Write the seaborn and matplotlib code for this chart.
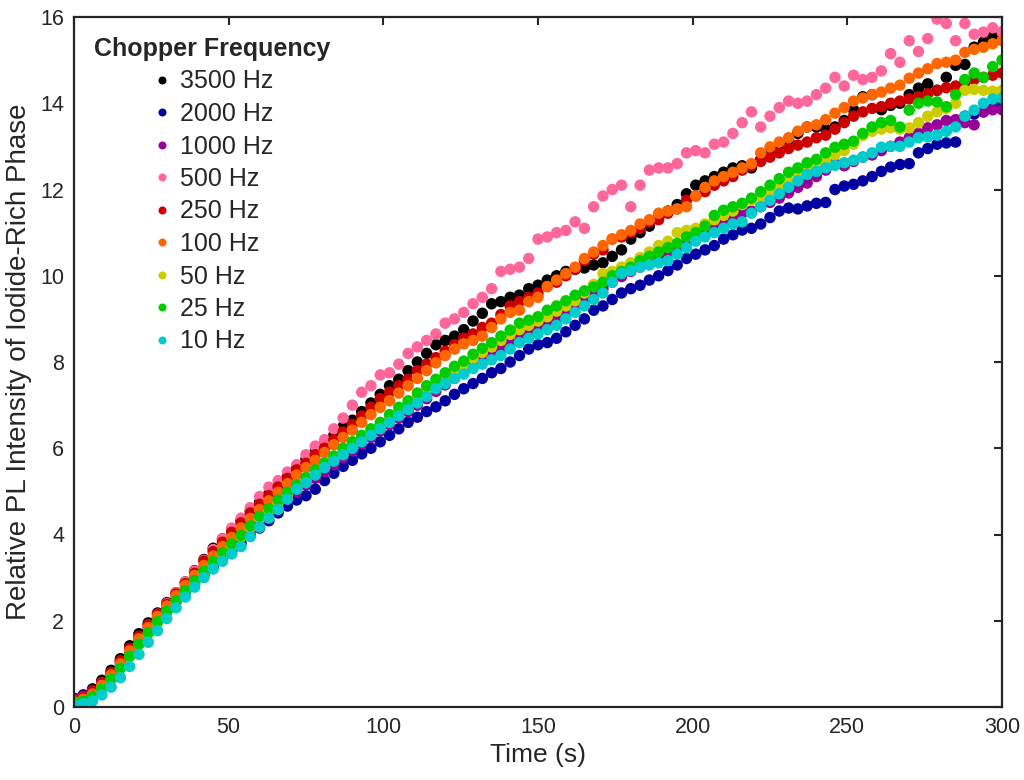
import numpy as np
import pandas as pd
import matplotlib
matplotlib.use("Agg")
import matplotlib.pyplot as plt
import seaborn as sns

# ---------------- data ----------------
TIME_S = np.arange(0, 301, 3)

FREQ_LABELS = ["3500 Hz", "2000 Hz", "1000 Hz", "500 Hz", "250 Hz",
               "100 Hz", "50 Hz", "25 Hz", "10 Hz"]
COLORS = ["#000000", "#0000A0", "#990099", "#FF6699", "#CC0000",
          "#FF6600", "#CCCC00", "#00CC00", "#00CCCC"]

HZ_3500 = [0.20, 0.28, 0.42, 0.62, 0.85, 1.12, 1.42, 1.70, 1.95, 2.18,
           2.42, 2.65, 2.90, 3.16, 3.42, 3.68, 3.90, 4.12, 4.33, 4.55,
           4.75, 4.95, 5.15, 5.35, 5.55, 5.75, 5.92, 6.10, 6.30, 6.50,
           6.65, 6.85, 7.05, 7.25, 7.45, 7.60, 7.80, 8.00, 8.20, 8.40,
           8.50, 8.60, 8.75, 8.95, 9.13, 9.35, 9.40, 9.50, 9.55, 9.70,
           9.78, 9.90, 10.00, 10.10, 10.15, 10.18, 10.25, 10.30, 10.45, 10.60,
           10.85, 11.00, 11.15, 11.35, 11.50, 11.65, 11.90, 12.10, 12.20, 12.30,
           12.40, 12.50, 12.55, 12.50, 12.70, 12.90, 13.00, 13.15, 13.30, 13.45,
           13.45, 13.40, 13.45, 13.60, 13.85, 14.15, 14.20, 13.85, 13.95, 14.00,
           14.20, 14.35, 14.45, 14.30, 14.60, 14.88, 14.90, 15.30, 15.42, 15.55,
           15.65]

HZ_2000 = [0.20, 0.26, 0.38, 0.55, 0.76, 1.00, 1.27, 1.52, 1.77, 2.00,
           2.22, 2.44, 2.65, 2.86, 3.06, 3.25, 3.44, 3.62, 3.80, 3.98,
           4.15, 4.32, 4.50, 4.66, 4.80, 4.90, 5.05, 5.25, 5.42, 5.58,
           5.72, 5.87, 6.00, 6.15, 6.30, 6.45, 6.60, 6.72, 6.85, 6.96,
           7.10, 7.25, 7.38, 7.50, 7.62, 7.75, 7.85, 8.00, 8.15, 8.30,
           8.40, 8.45, 8.55, 8.70, 8.85, 9.00, 9.20, 9.30, 9.45, 9.60,
           9.70, 9.78, 9.90, 10.00, 10.12, 10.25, 10.40, 10.50, 10.60, 10.70,
           10.85, 10.95, 11.06, 11.10, 11.20, 11.35, 11.50, 11.57, 11.55, 11.62,
           11.68, 11.70, 12.00, 12.08, 12.12, 12.20, 12.30, 12.42, 12.52, 12.58,
           12.60, 12.85, 12.95, 13.05, 13.08, 13.10, 13.70, 13.75, 13.80, 13.88,
           13.90]

HZ_1000 = [0.18, 0.25, 0.38, 0.57, 0.80, 1.06, 1.34, 1.60, 1.85, 2.08,
           2.30, 2.52, 2.74, 2.95, 3.16, 3.36, 3.55, 3.73, 3.92, 4.10,
           4.28, 4.46, 4.64, 4.82, 4.98, 5.15, 5.30, 5.46, 5.62, 5.78,
           5.94, 6.10, 6.25, 6.40, 6.55, 6.70, 6.85, 7.00, 7.15, 7.32,
           7.47, 7.62, 7.76, 7.90, 8.02, 8.15, 8.30, 8.45, 8.60, 8.72,
           8.80, 8.90, 9.02, 9.15, 9.30, 9.42, 9.55, 9.70, 9.85, 9.98,
           10.10, 10.20, 10.32, 10.45, 10.55, 10.65, 10.75, 10.85, 10.95, 11.08,
           11.20, 11.35, 11.45, 11.50, 11.60, 11.70, 11.80, 11.92, 12.05, 12.15,
           12.30, 12.45, 12.60, 12.55, 12.65, 12.75, 12.80, 12.90, 13.00, 13.10,
           13.20, 13.30, 13.43, 13.50, 13.60, 13.62, 13.55, 13.50, 13.80, 13.85,
           13.85]

HZ_500 = [0.15, 0.22, 0.35, 0.55, 0.78, 1.05, 1.35, 1.62, 1.90, 2.15,
          2.40, 2.65, 2.90, 3.15, 3.40, 3.65, 3.90, 4.15, 4.38, 4.62,
          4.88, 5.10, 5.25, 5.45, 5.62, 5.85, 6.05, 6.20, 6.45, 6.70,
          7.00, 7.30, 7.45, 7.70, 7.75, 7.95, 8.20, 8.35, 8.50, 8.65,
          8.90, 9.00, 9.15, 9.35, 9.50, 9.70, 10.10, 10.15, 10.20, 10.40,
          10.85, 10.90, 11.00, 11.05, 11.25, 11.10, 11.60, 11.85, 12.00, 12.10,
          11.60, 12.10, 12.45, 12.50, 12.50, 12.60, 12.85, 12.90, 12.85, 13.05,
          13.10, 13.30, 13.55, 13.80, 13.45, 13.70, 13.90, 14.05, 14.00, 14.05,
          14.20, 14.35, 14.60, 14.40, 14.65, 14.55, 14.60, 14.75, 15.15, 14.95,
          15.45, 15.20, 15.50, 15.95, 15.85, 15.45, 15.85, 15.60, 15.65, 15.75,
          15.65]

HZ_250 = [0.15, 0.22, 0.36, 0.56, 0.80, 1.07, 1.36, 1.64, 1.90, 2.15,
          2.38, 2.62, 2.86, 3.10, 3.38, 3.60, 3.82, 4.05, 4.27, 4.50,
          4.70, 4.90, 5.10, 5.30, 5.50, 5.65, 5.85, 6.00, 6.20, 6.38,
          6.55, 6.75, 6.95, 7.15, 7.30, 7.45, 7.60, 7.80, 7.95, 8.10,
          8.25, 8.40, 8.55, 8.65, 8.80, 8.90, 9.10, 9.30, 9.40, 9.50,
          9.60, 9.75, 9.85, 10.00, 10.15, 10.35, 10.50, 10.60, 10.85, 10.90,
          11.00, 11.10, 11.25, 11.30, 11.45, 11.55, 11.75, 11.85, 11.95, 12.10,
          12.20, 12.30, 12.45, 12.55, 12.65, 12.75, 12.85, 12.95, 13.03, 13.10,
          13.20, 13.26, 13.40, 13.55, 13.70, 13.80, 13.88, 13.92, 14.00, 14.05,
          14.10, 14.15, 14.22, 14.30, 14.36, 14.40, 14.48, 14.55, 14.60, 14.65,
          14.70]

HZ_100 = [0.12, 0.18, 0.30, 0.50, 0.74, 1.00, 1.30, 1.58, 1.84, 2.10,
          2.34, 2.58, 2.82, 3.05, 3.28, 3.50, 3.72, 3.93, 4.15, 4.37,
          4.58, 4.78, 4.98, 5.18, 5.38, 5.55, 5.72, 5.90, 6.08, 6.25,
          6.42, 6.60, 6.78, 6.95, 7.10, 7.28, 7.45, 7.62, 7.80, 7.98,
          8.15, 8.30, 8.42, 8.50, 8.60, 8.80, 9.00, 9.15, 9.20, 9.40,
          9.50, 9.75, 9.90, 10.05, 10.20, 10.40, 10.55, 10.70, 10.85, 10.95,
          11.05, 11.20, 11.30, 11.45, 11.50, 11.55, 11.60, 11.85, 12.05, 12.20,
          12.30, 12.40, 12.50, 12.60, 12.85, 12.99, 13.10, 13.20, 13.35, 13.45,
          13.50, 13.62, 13.77, 13.90, 14.05, 14.12, 14.20, 14.26, 14.35, 14.42,
          14.58, 14.70, 14.80, 14.92, 14.95, 15.00, 15.18, 15.25, 15.30, 15.38,
          15.45]

HZ_50 = [0.10, 0.14, 0.24, 0.42, 0.64, 0.90, 1.17, 1.45, 1.70, 1.96,
         2.20, 2.44, 2.68, 2.90, 3.12, 3.33, 3.55, 3.75, 3.95, 4.16,
         4.38, 4.56, 4.75, 4.93, 5.10, 5.27, 5.44, 5.60, 5.76, 5.93,
         6.08, 6.23, 6.38, 6.53, 6.70, 6.87, 7.02, 7.20, 7.36, 7.52,
         7.66, 7.80, 7.92, 8.08, 8.22, 8.35, 8.50, 8.64, 8.75, 8.85,
         8.95, 9.05, 9.18, 9.30, 9.42, 9.60, 9.80, 10.05, 10.10, 10.20,
         10.30, 10.42, 10.55, 10.70, 10.80, 11.00, 11.05, 11.10, 11.20, 11.30,
         11.40, 11.50, 11.65, 11.75, 11.85, 11.95, 12.05, 12.18, 12.35, 12.45,
         12.55, 12.65, 12.80, 12.90, 13.05, 13.25, 13.35, 13.40, 13.43, 13.40,
         13.43, 13.55, 13.70, 13.80, 13.88, 14.00, 14.30, 14.32, 14.30, 14.28,
         14.30]

HZ_25 = [0.10, 0.14, 0.24, 0.42, 0.65, 0.90, 1.18, 1.46, 1.72, 1.98,
         2.22, 2.46, 2.70, 2.93, 3.15, 3.37, 3.58, 3.78, 3.98, 4.20,
         4.42, 4.60, 4.80, 4.98, 5.15, 5.32, 5.50, 5.66, 5.82, 6.00,
         6.15, 6.30, 6.45, 6.60, 6.78, 6.95, 7.10, 7.28, 7.45, 7.60,
         7.75, 7.90, 8.02, 8.18, 8.32, 8.45, 8.60, 8.74, 8.90, 8.97,
         9.05, 9.20, 9.30, 9.42, 9.55, 9.65, 9.74, 9.85, 10.00, 10.10,
         10.20, 10.35, 10.45, 10.55, 10.65, 10.75, 10.90, 11.00, 11.15, 11.40,
         11.52, 11.60, 11.68, 11.80, 11.95, 12.10, 12.25, 12.40, 12.50, 12.62,
         12.70, 12.85, 12.98, 13.05, 13.12, 13.30, 13.45, 13.55, 13.60, 13.45,
         13.84, 14.00, 14.05, 14.03, 13.92, 14.20, 14.55, 14.70, 14.60, 14.85,
         15.00]

HZ_10 = [0.05, 0.08, 0.14, 0.28, 0.46, 0.68, 0.94, 1.22, 1.50, 1.77,
         2.05, 2.30, 2.55, 2.78, 3.00, 3.20, 3.38, 3.55, 3.72, 3.95,
         4.17, 4.38, 4.58, 4.82, 5.05, 5.20, 5.38, 5.55, 5.70, 5.85,
         6.00, 6.15, 6.30, 6.45, 6.60, 6.75, 6.90, 7.05, 7.20, 7.38,
         7.50, 7.62, 7.72, 7.85, 7.95, 8.05, 8.15, 8.30, 8.45, 8.55,
         8.65, 8.75, 8.85, 9.00, 9.15, 9.30, 9.45, 9.60, 9.85, 10.05,
         10.12, 10.20, 10.25, 10.30, 10.35, 10.50, 10.65, 10.80, 10.90, 11.00,
         11.10, 11.20, 11.25, 11.45, 11.60, 11.75, 11.90, 12.05, 12.20, 12.35,
         12.42, 12.50, 12.56, 12.62, 12.68, 12.75, 12.85, 12.98, 13.00, 13.00,
         13.10, 13.20, 13.22, 13.26, 13.35, 13.45, 13.70, 13.84, 14.00, 14.10,
         14.12]

SERIES = [HZ_3500, HZ_2000, HZ_1000, HZ_500, HZ_250, HZ_100, HZ_50, HZ_25, HZ_10]

X_TICKS = [0, 50, 100, 150, 200, 250, 300]
Y_TICKS = [0, 2, 4, 6, 8, 10, 12, 14, 16]

# ---------------- table ----------------
frames = []
for lab, vals in zip(FREQ_LABELS, SERIES):
    frames.append(pd.DataFrame({"t": TIME_S, "pl": vals, "freq": lab}))
df = pd.concat(frames, ignore_index=True)

# ---------------- plot ----------------
sns.set_style("white")
plt.rcParams["font.family"] = ["Liberation Sans", "DejaVu Sans"]

INK = "#262626"
fig = plt.figure(figsize=(10.24, 7.8), dpi=100)
ax = fig.add_axes([74 / 1024, 73 / 780, 928 / 1024, 690 / 780])

sns.scatterplot(data=df, x="t", y="pl", hue="freq", hue_order=FREQ_LABELS,
                palette=COLORS, s=68, linewidth=0, alpha=1.0, ax=ax)

ax.set_xlim(0, 300)
ax.set_ylim(0, 16)
ax.set_xticks(X_TICKS)
ax.set_yticks(Y_TICKS)
ax.tick_params(direction="in", length=6, width=1.5, top=True, right=True,
               labelsize=15.5, colors=INK, pad=7)
for sp in ax.spines.values():
    sp.set_linewidth(1.6)
    sp.set_color(INK)
    sp.set_visible(True)

ax.set_xlabel("Time (s)", fontsize=19, color=INK, labelpad=4)
ax.set_ylabel("Relative PL Intensity of Iodide-Rich Phase", fontsize=20,
              color=INK, labelpad=6)

old = ax.get_legend()
handles = list(old.legend_handles)
labels = [t.get_text() for t in old.get_texts()]
old.remove()
leg = ax.legend(handles, labels, title="Chopper Frequency", loc="upper left",
                bbox_to_anchor=(0, 1), frameon=False, fontsize=18,
                title_fontsize=18, markerscale=0.7, handlelength=0.8,
                handletextpad=0.32, labelspacing=0.34, borderaxespad=0.35,
                borderpad=0.45)
leg.get_title().set_fontweight("bold")

fig.savefig("out.png", dpi=100)
